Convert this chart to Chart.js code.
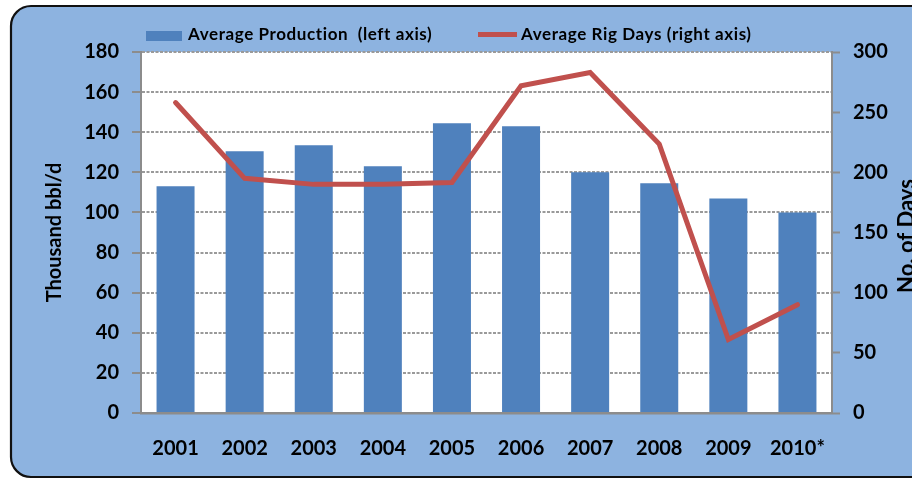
<!DOCTYPE html>
<html>
<head>
<meta charset="utf-8">
<script src="https://cdn.jsdelivr.net/npm/chart.js@4/dist/chart.umd.min.js"></script>
<style>
  html, body { margin: 0; padding: 0; background: #ffffff; }
  #wrap { width: 912px; height: 480px; position: relative; }
</style>
</head>
<body>
<div id="wrap"><canvas id="c" width="912" height="480"></canvas></div>
<script>
const categories = ['2001', '2002', '2003', '2004', '2005', '2006', '2007', '2008', '2009', '2010*'];
const productionValues = [113, 130.5, 133.5, 123, 144.5, 143, 120, 114.5, 107, 100];
const rigDaysValues = [258, 195, 190, 190, 191.5, 272, 283, 223.5, 61, 90];
const leftTicks = [0, 20, 40, 60, 80, 100, 120, 140, 160, 180];
const rightTicks = [0, 50, 100, 150, 200, 250, 300];
const seriesNames = ['Average Production  (left axis)', 'Average Rig Days (right axis)'];
const leftTitle = 'Thousand bbl/d';
const rightTitle = 'No. of Days';

const FONT = 'Lato, "Open Sans", sans-serif';
const BAR_COLOR = '#4F81BD';
const LINE_COLOR = '#C0504D';
const AXIS_GRAY = '#8C8C8C';

const decor = {
  id: 'decor',
  beforeDraw(chart) {
    const ctx = chart.ctx;
    const a = chart.chartArea;
    ctx.save();
    const x = 11, y = 6, w = 960, h = 471, r = 20;
    ctx.beginPath();
    ctx.moveTo(x + r, y);
    ctx.lineTo(x + w - r, y);
    ctx.arcTo(x + w, y, x + w, y + r, r);
    ctx.lineTo(x + w, y + h - r);
    ctx.arcTo(x + w, y + h, x + w - r, y + h, r);
    ctx.lineTo(x + r, y + h);
    ctx.arcTo(x, y + h, x, y + h - r, r);
    ctx.lineTo(x, y + r);
    ctx.arcTo(x, y, x + r, y, r);
    ctx.closePath();
    ctx.fillStyle = '#8DB3E0';
    ctx.fill();
    ctx.lineWidth = 2.2;
    ctx.strokeStyle = '#111111';
    ctx.stroke();
    ctx.fillStyle = '#ffffff';
    ctx.fillRect(a.left, a.top, a.right - a.left, a.bottom - a.top);
    ctx.restore();
  },
  afterDraw(chart) {
    const ctx = chart.ctx;
    const ds = chart.data.datasets;
    ctx.save();
    ctx.font = 'bold 17px ' + FONT;
    try { ctx.letterSpacing = '0.6px'; } catch (e) {}
    ctx.textBaseline = 'middle';
    ctx.textAlign = 'left';
    ctx.fillStyle = ds[0].backgroundColor;
    ctx.fillRect(146, 31, 36, 10);
    ctx.fillStyle = '#000000';
    ctx.fillText(ds[0].label, 188, 35);
    ctx.strokeStyle = ds[1].borderColor;
    ctx.lineWidth = 5;
    ctx.beginPath();
    ctx.moveTo(478, 34.5);
    ctx.lineTo(517, 34.5);
    ctx.stroke();
    ctx.fillText(ds[1].label, 521, 35);
    try { ctx.letterSpacing = '0px'; } catch (e) {}
    ctx.translate(907, 236);
    ctx.rotate(-Math.PI / 2);
    ctx.textAlign = 'center';
    ctx.font = 'bold 22px ' + FONT;
    ctx.fillText(rightTitle, 0, 0);
    ctx.restore();
  }
};

new Chart(document.getElementById('c'), {
  data: {
    labels: categories,
    datasets: [
      {
        type: 'bar',
        label: seriesNames[0],
        data: productionValues,
        backgroundColor: BAR_COLOR,
        borderWidth: 0,
        barPercentage: 0.55,
        categoryPercentage: 1.0,
        yAxisID: 'y',
        order: 2
      },
      {
        type: 'line',
        label: seriesNames[1],
        data: rigDaysValues,
        borderColor: LINE_COLOR,
        backgroundColor: LINE_COLOR,
        borderWidth: 5,
        pointRadius: 0,
        pointHoverRadius: 0,
        tension: 0,
        borderJoinStyle: 'miter',
        borderCapStyle: 'round',
        yAxisID: 'y2',
        order: 1
      }
    ]
  },
  options: {
    responsive: false,
    animation: false,
    devicePixelRatio: 1,
    layout: { padding: { top: 52, left: 43, right: 0, bottom: 0 } },
    plugins: {
      legend: { display: false },
      tooltip: { enabled: false }
    },
    scales: {
      x: {
        type: 'category',
        offset: true,
        grid: { display: false, drawTicks: false },
        border: { display: true, color: AXIS_GRAY, width: 2.5 },
        ticks: {
          color: '#000000',
          font: { family: FONT, size: 20, weight: 'bold' },
          padding: 24,
          maxRotation: 0,
          autoSkip: false
        },
        afterFit(scale) { scale.height = 67; }
      },
      y: {
        type: 'linear',
        position: 'left',
        min: 0,
        max: 180,
        afterBuildTicks(scale) { scale.ticks = leftTicks.map(v => ({ value: v })); },
        grid: {
          color: '#9A9A9A',
          lineWidth: 2,
          tickLength: 9,
          tickColor: AXIS_GRAY,
          tickWidth: 2,
          tickBorderDash: []
        },
        border: { display: true, color: AXIS_GRAY, width: 2, dash: [3, 1.5] },
        ticks: {
          color: '#000000',
          font: { family: FONT, size: 20, weight: 'bold' },
          padding: 13
        },
        title: {
          display: true,
          text: leftTitle,
          color: '#000000',
          font: { family: FONT, size: 20, weight: 'bold' },
          padding: 0
        },
        afterFit(scale) { scale.width = 98; }
      },
      y2: {
        type: 'linear',
        position: 'right',
        min: 0,
        max: 300,
        afterBuildTicks(scale) { scale.ticks = rightTicks.map(v => ({ value: v })); },
        grid: {
          drawOnChartArea: false,
          drawTicks: true,
          tickLength: 8,
          tickColor: AXIS_GRAY,
          tickWidth: 2
        },
        border: { display: true, color: AXIS_GRAY, width: 2 },
        ticks: {
          color: '#000000',
          font: { family: FONT, size: 20, weight: 'bold' },
          padding: 13
        },
        afterFit(scale) { scale.width = 80; }
      }
    }
  },
  plugins: [decor]
});
</script>
</body>
</html>
